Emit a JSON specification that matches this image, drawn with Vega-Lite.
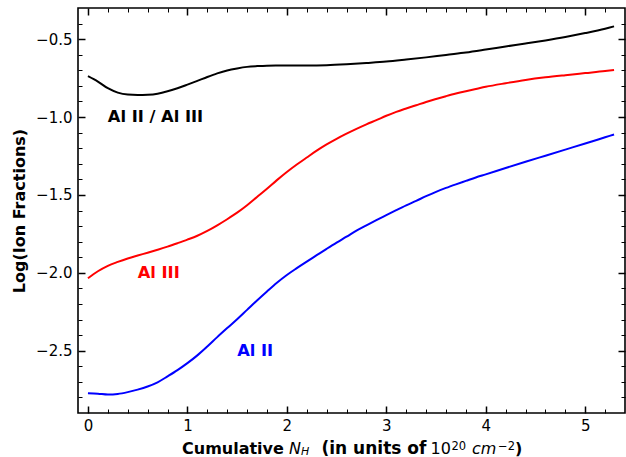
{
  "$schema": "https://vega.github.io/schema/vega-lite/v6.json",
  "width": 547,
  "height": 405,
  "autosize": {"type": "none"},
  "padding": {"left": 78, "top": 8, "right": 1, "bottom": 44},
  "config": {
    "font": "DejaVu Sans",
    "view": {"stroke": "black", "strokeWidth": 1.6},
    "axis": {
      "domain": false,
      "grid": false,
      "labelColor": "black",
      "tickColor": "black",
      "titleColor": "black",
      "labelFont": "DejaVu Sans",
      "titleFont": "DejaVu Sans",
      "labelFlush": false
    }
  },
  "datasets": {
    "ions": [
      {"n": 0, "v": -2.773, "ion": "Al II"},
      {"n": 0.1, "v": -2.776, "ion": "Al II"},
      {"n": 0.2, "v": -2.782, "ion": "Al II"},
      {"n": 0.3, "v": -2.778, "ion": "Al II"},
      {"n": 0.4, "v": -2.766, "ion": "Al II"},
      {"n": 0.5, "v": -2.75, "ion": "Al II"},
      {"n": 0.6, "v": -2.73, "ion": "Al II"},
      {"n": 0.7, "v": -2.703, "ion": "Al II"},
      {"n": 0.8, "v": -2.665, "ion": "Al II"},
      {"n": 0.9, "v": -2.625, "ion": "Al II"},
      {"n": 1.0, "v": -2.58, "ion": "Al II"},
      {"n": 1.1, "v": -2.53, "ion": "Al II"},
      {"n": 1.2, "v": -2.473, "ion": "Al II"},
      {"n": 1.3, "v": -2.413, "ion": "Al II"},
      {"n": 1.4, "v": -2.355, "ion": "Al II"},
      {"n": 1.5, "v": -2.298, "ion": "Al II"},
      {"n": 1.6, "v": -2.238, "ion": "Al II"},
      {"n": 1.7, "v": -2.178, "ion": "Al II"},
      {"n": 1.8, "v": -2.12, "ion": "Al II"},
      {"n": 1.9, "v": -2.064, "ion": "Al II"},
      {"n": 2.0, "v": -2.014, "ion": "Al II"},
      {"n": 2.1, "v": -1.97, "ion": "Al II"},
      {"n": 2.2, "v": -1.928, "ion": "Al II"},
      {"n": 2.3, "v": -1.887, "ion": "Al II"},
      {"n": 2.4, "v": -1.846, "ion": "Al II"},
      {"n": 2.5, "v": -1.806, "ion": "Al II"},
      {"n": 2.6, "v": -1.768, "ion": "Al II"},
      {"n": 2.7, "v": -1.729, "ion": "Al II"},
      {"n": 2.8, "v": -1.695, "ion": "Al II"},
      {"n": 2.9, "v": -1.662, "ion": "Al II"},
      {"n": 3.0, "v": -1.63, "ion": "Al II"},
      {"n": 3.1, "v": -1.598, "ion": "Al II"},
      {"n": 3.2, "v": -1.567, "ion": "Al II"},
      {"n": 3.3, "v": -1.538, "ion": "Al II"},
      {"n": 3.4, "v": -1.508, "ion": "Al II"},
      {"n": 3.5, "v": -1.48, "ion": "Al II"},
      {"n": 3.6, "v": -1.455, "ion": "Al II"},
      {"n": 3.7, "v": -1.432, "ion": "Al II"},
      {"n": 3.8, "v": -1.41, "ion": "Al II"},
      {"n": 3.9, "v": -1.388, "ion": "Al II"},
      {"n": 4.0, "v": -1.368, "ion": "Al II"},
      {"n": 4.2, "v": -1.327, "ion": "Al II"},
      {"n": 4.4, "v": -1.287, "ion": "Al II"},
      {"n": 4.6, "v": -1.248, "ion": "Al II"},
      {"n": 4.8, "v": -1.209, "ion": "Al II"},
      {"n": 5.0, "v": -1.17, "ion": "Al II"},
      {"n": 5.2, "v": -1.13, "ion": "Al II"},
      {"n": 5.29, "v": -1.112, "ion": "Al II"},
      {"n": 0, "v": -2.035, "ion": "Al III"},
      {"n": 0.1, "v": -1.99, "ion": "Al III"},
      {"n": 0.2, "v": -1.955, "ion": "Al III"},
      {"n": 0.3, "v": -1.93, "ion": "Al III"},
      {"n": 0.4, "v": -1.908, "ion": "Al III"},
      {"n": 0.5, "v": -1.889, "ion": "Al III"},
      {"n": 0.6, "v": -1.871, "ion": "Al III"},
      {"n": 0.7, "v": -1.852, "ion": "Al III"},
      {"n": 0.8, "v": -1.832, "ion": "Al III"},
      {"n": 0.9, "v": -1.81, "ion": "Al III"},
      {"n": 1.0, "v": -1.787, "ion": "Al III"},
      {"n": 1.1, "v": -1.762, "ion": "Al III"},
      {"n": 1.2, "v": -1.731, "ion": "Al III"},
      {"n": 1.3, "v": -1.695, "ion": "Al III"},
      {"n": 1.4, "v": -1.656, "ion": "Al III"},
      {"n": 1.5, "v": -1.614, "ion": "Al III"},
      {"n": 1.6, "v": -1.566, "ion": "Al III"},
      {"n": 1.7, "v": -1.513, "ion": "Al III"},
      {"n": 1.8, "v": -1.46, "ion": "Al III"},
      {"n": 1.9, "v": -1.405, "ion": "Al III"},
      {"n": 2.0, "v": -1.353, "ion": "Al III"},
      {"n": 2.1, "v": -1.305, "ion": "Al III"},
      {"n": 2.2, "v": -1.26, "ion": "Al III"},
      {"n": 2.3, "v": -1.216, "ion": "Al III"},
      {"n": 2.4, "v": -1.176, "ion": "Al III"},
      {"n": 2.5, "v": -1.14, "ion": "Al III"},
      {"n": 2.6, "v": -1.107, "ion": "Al III"},
      {"n": 2.7, "v": -1.076, "ion": "Al III"},
      {"n": 2.8, "v": -1.047, "ion": "Al III"},
      {"n": 2.9, "v": -1.02, "ion": "Al III"},
      {"n": 3.0, "v": -0.992, "ion": "Al III"},
      {"n": 3.1, "v": -0.967, "ion": "Al III"},
      {"n": 3.2, "v": -0.945, "ion": "Al III"},
      {"n": 3.3, "v": -0.924, "ion": "Al III"},
      {"n": 3.4, "v": -0.903, "ion": "Al III"},
      {"n": 3.5, "v": -0.884, "ion": "Al III"},
      {"n": 3.6, "v": -0.866, "ion": "Al III"},
      {"n": 3.7, "v": -0.849, "ion": "Al III"},
      {"n": 3.8, "v": -0.834, "ion": "Al III"},
      {"n": 3.9, "v": -0.82, "ion": "Al III"},
      {"n": 4.0, "v": -0.806, "ion": "Al III"},
      {"n": 4.2, "v": -0.783, "ion": "Al III"},
      {"n": 4.4, "v": -0.762, "ion": "Al III"},
      {"n": 4.6, "v": -0.745, "ion": "Al III"},
      {"n": 4.8, "v": -0.731, "ion": "Al III"},
      {"n": 5.0, "v": -0.718, "ion": "Al III"},
      {"n": 5.2, "v": -0.705, "ion": "Al III"},
      {"n": 5.29, "v": -0.698, "ion": "Al III"},
      {"n": 0, "v": -0.737, "ion": "Al II / Al III"},
      {"n": 0.1, "v": -0.772, "ion": "Al II / Al III"},
      {"n": 0.2, "v": -0.815, "ion": "Al II / Al III"},
      {"n": 0.3, "v": -0.843, "ion": "Al II / Al III"},
      {"n": 0.4, "v": -0.856, "ion": "Al II / Al III"},
      {"n": 0.5, "v": -0.859, "ion": "Al II / Al III"},
      {"n": 0.6, "v": -0.857, "ion": "Al II / Al III"},
      {"n": 0.7, "v": -0.85, "ion": "Al II / Al III"},
      {"n": 0.8, "v": -0.835, "ion": "Al II / Al III"},
      {"n": 0.9, "v": -0.815, "ion": "Al II / Al III"},
      {"n": 1.0, "v": -0.792, "ion": "Al II / Al III"},
      {"n": 1.1, "v": -0.768, "ion": "Al II / Al III"},
      {"n": 1.2, "v": -0.743, "ion": "Al II / Al III"},
      {"n": 1.3, "v": -0.72, "ion": "Al II / Al III"},
      {"n": 1.4, "v": -0.701, "ion": "Al II / Al III"},
      {"n": 1.5, "v": -0.688, "ion": "Al II / Al III"},
      {"n": 1.6, "v": -0.678, "ion": "Al II / Al III"},
      {"n": 1.7, "v": -0.673, "ion": "Al II / Al III"},
      {"n": 1.8, "v": -0.67, "ion": "Al II / Al III"},
      {"n": 2.0, "v": -0.669, "ion": "Al II / Al III"},
      {"n": 2.2, "v": -0.669, "ion": "Al II / Al III"},
      {"n": 2.4, "v": -0.667, "ion": "Al II / Al III"},
      {"n": 2.6, "v": -0.661, "ion": "Al II / Al III"},
      {"n": 2.8, "v": -0.653, "ion": "Al II / Al III"},
      {"n": 3.0, "v": -0.644, "ion": "Al II / Al III"},
      {"n": 3.2, "v": -0.631, "ion": "Al II / Al III"},
      {"n": 3.4, "v": -0.617, "ion": "Al II / Al III"},
      {"n": 3.6, "v": -0.601, "ion": "Al II / Al III"},
      {"n": 3.8, "v": -0.586, "ion": "Al II / Al III"},
      {"n": 4.0, "v": -0.567, "ion": "Al II / Al III"},
      {"n": 4.2, "v": -0.547, "ion": "Al II / Al III"},
      {"n": 4.4, "v": -0.528, "ion": "Al II / Al III"},
      {"n": 4.6, "v": -0.508, "ion": "Al II / Al III"},
      {"n": 4.8, "v": -0.486, "ion": "Al II / Al III"},
      {"n": 5.0, "v": -0.461, "ion": "Al II / Al III"},
      {"n": 5.2, "v": -0.433, "ion": "Al II / Al III"},
      {"n": 5.29, "v": -0.418, "ion": "Al II / Al III"}
    ]
  },
  "resolve": {"axis": {"x": "independent", "y": "independent"}},
  "layer": [
    {
      "data": {"name": "ions"},
      "mark": {"type": "line", "strokeWidth": 2, "interpolate": "monotone"},
      "encoding": {
        "x": {"field": "n", "type": "quantitative",
          "scale": {"domain": [-0.1, 5.4], "nice": false, "zero": false},
          "axis": {"orient": "bottom", "values": [0, 1, 2, 3, 4, 5], "format": "d", "ticks": false, "labelPadding": 5, "labelFontSize": 15, "title": null}},
        "y": {"field": "v", "type": "quantitative",
          "scale": {"domain": [-2.9, -0.3], "nice": false, "zero": false},
          "axis": {"orient": "left", "values": [-2.5, -2, -1.5, -1, -0.5], "format": ".1f", "ticks": false, "labelPadding": 6, "labelFontSize": 15,
            "title": "Log(Ion Fractions)", "titleFontSize": 16, "titleFontWeight": "bold", "titlePadding": 8}},
        "color": {"field": "ion", "type": "nominal",
          "scale": {"domain": ["Al II / Al III", "Al III", "Al II"], "range": ["#000000", "#ff0000", "#0000ff"]},
          "legend": null}
      }
    },
    {
      "data": {"name": "ions"},
      "mark": {"type": "point", "opacity": 0},
      "encoding": {
        "x": {"field": "n", "type": "quantitative", "scale": {"domain": [-0.1, 5.4], "nice": false, "zero": false},
          "axis": {"orient": "bottom", "values": [0, 1, 2, 3, 4, 5], "labels": false, "tickSize": -7, "tickWidth": 1.5, "title": null}},
        "y": {"field": "v", "type": "quantitative", "scale": {"domain": [-2.9, -0.3], "nice": false, "zero": false},
          "axis": {"orient": "left", "values": [-2.5, -2, -1.5, -1, -0.5], "labels": false, "tickSize": -7, "tickWidth": 1.5, "title": null}}
      }
    },
    {
      "data": {"name": "ions"},
      "mark": {"type": "point", "opacity": 0},
      "encoding": {
        "x": {"field": "n", "type": "quantitative", "scale": {"domain": [-0.1, 5.4], "nice": false, "zero": false},
          "axis": {"orient": "top", "values": [0, 1, 2, 3, 4, 5], "labels": false, "tickSize": -7, "tickWidth": 1.5, "title": null}},
        "y": {"field": "v", "type": "quantitative", "scale": {"domain": [-2.9, -0.3], "nice": false, "zero": false},
          "axis": {"orient": "right", "values": [-2.5, -2, -1.5, -1, -0.5], "labels": false, "tickSize": -7, "tickWidth": 1.5, "title": null}}
      }
    },
    {
      "data": {"name": "ions"},
      "mark": {"type": "point", "opacity": 0},
      "encoding": {
        "x": {"field": "n", "type": "quantitative", "scale": {"domain": [-0.1, 5.4], "nice": false, "zero": false},
          "axis": {"orient": "bottom", "values": [0.2, 0.4, 0.6, 0.8, 1.2, 1.4, 1.6, 1.8, 2.2, 2.4, 2.6, 2.8, 3.2, 3.4, 3.6, 3.8, 4.2, 4.4, 4.6, 4.8, 5.2], "labels": false, "tickSize": -4, "tickWidth": 1, "title": null}},
        "y": {"field": "v", "type": "quantitative", "scale": {"domain": [-2.9, -0.3], "nice": false, "zero": false},
          "axis": {"orient": "left", "values": [-2.8, -2.7, -2.6, -2.4, -2.3, -2.2, -2.1, -1.9, -1.8, -1.7, -1.6, -1.4, -1.3, -1.2, -1.1, -0.9, -0.8, -0.7, -0.6, -0.4], "labels": false, "tickSize": -4, "tickWidth": 1, "title": null}}
      }
    },
    {
      "data": {"name": "ions"},
      "mark": {"type": "point", "opacity": 0},
      "encoding": {
        "x": {"field": "n", "type": "quantitative", "scale": {"domain": [-0.1, 5.4], "nice": false, "zero": false},
          "axis": {"orient": "top", "values": [0.2, 0.4, 0.6, 0.8, 1.2, 1.4, 1.6, 1.8, 2.2, 2.4, 2.6, 2.8, 3.2, 3.4, 3.6, 3.8, 4.2, 4.4, 4.6, 4.8, 5.2], "labels": false, "tickSize": -4, "tickWidth": 1, "title": null}},
        "y": {"field": "v", "type": "quantitative", "scale": {"domain": [-2.9, -0.3], "nice": false, "zero": false},
          "axis": {"orient": "right", "values": [-2.8, -2.7, -2.6, -2.4, -2.3, -2.2, -2.1, -1.9, -1.8, -1.7, -1.6, -1.4, -1.3, -1.2, -1.1, -0.9, -0.8, -0.7, -0.6, -0.4], "labels": false, "tickSize": -4, "tickWidth": 1, "title": null}}
      }
    },
    {
      "data": {"values": [{}]},
      "mark": {"type": "text", "text": "Al II / Al III", "align": "left", "baseline": "middle", "fontSize": 16.3, "fontWeight": "bold", "color": "#000000"},
      "encoding": {
        "x": {"datum": 0.2, "type": "quantitative", "axis": null},
        "y": {"datum": -1.0, "type": "quantitative", "axis": null}
      }
    },
    {
      "data": {"values": [{}]},
      "mark": {"type": "text", "text": "Al III", "align": "left", "baseline": "middle", "fontSize": 16.3, "fontWeight": "bold", "color": "#ff0000"},
      "encoding": {
        "x": {"datum": 0.5, "type": "quantitative", "axis": null},
        "y": {"datum": -2.0, "type": "quantitative", "axis": null}
      }
    },
    {
      "data": {"values": [{}]},
      "mark": {"type": "text", "text": "Al II", "align": "left", "baseline": "middle", "fontSize": 16.3, "fontWeight": "bold", "color": "#0000ff"},
      "encoding": {
        "x": {"datum": 1.5, "type": "quantitative", "axis": null},
        "y": {"datum": -2.5, "type": "quantitative", "axis": null}
      }
    },
    {
      "data": {"values": [{}]},
      "mark": {"type": "text", "text": "Cumulative", "align": "left", "baseline": "alphabetic", "fontSize": 16, "fontWeight": "bold", "color": "#000000"},
      "encoding": {
        "x": {"datum": 0.9457, "type": "quantitative", "axis": null},
        "y": {"datum": -3.16, "type": "quantitative", "axis": null}
      }
    },
    {
      "data": {"values": [{}]},
      "mark": {"type": "text", "text": "N", "align": "left", "baseline": "alphabetic", "fontSize": 16, "fontStyle": "italic", "color": "#000000"},
      "encoding": {
        "x": {"datum": 2.0216, "type": "quantitative", "axis": null},
        "y": {"datum": -3.16, "type": "quantitative", "axis": null}
      }
    },
    {
      "data": {"values": [{}]},
      "mark": {"type": "text", "text": "H", "align": "left", "baseline": "alphabetic", "fontSize": 11, "fontStyle": "italic", "dy": 1, "color": "#000000"},
      "encoding": {
        "x": {"datum": 2.1423, "type": "quantitative", "axis": null},
        "y": {"datum": -3.16, "type": "quantitative", "axis": null}
      }
    },
    {
      "data": {"values": [{}]},
      "mark": {"type": "text", "text": "(in units of", "align": "left", "baseline": "alphabetic", "fontSize": 17, "fontWeight": "bold", "color": "#000000"},
      "encoding": {
        "x": {"datum": 2.3484, "type": "quantitative", "axis": null},
        "y": {"datum": -3.16, "type": "quantitative", "axis": null}
      }
    },
    {
      "data": {"values": [{}]},
      "mark": {"type": "text", "text": "10", "align": "left", "baseline": "alphabetic", "fontSize": 16, "color": "#000000"},
      "encoding": {
        "x": {"datum": 3.4445, "type": "quantitative", "axis": null},
        "y": {"datum": -3.16, "type": "quantitative", "axis": null}
      }
    },
    {
      "data": {"values": [{}]},
      "mark": {"type": "text", "text": "20", "align": "left", "baseline": "alphabetic", "fontSize": 11.5, "dy": -4, "color": "#000000"},
      "encoding": {
        "x": {"datum": 3.6556, "type": "quantitative", "axis": null},
        "y": {"datum": -3.16, "type": "quantitative", "axis": null}
      }
    },
    {
      "data": {"values": [{}]},
      "mark": {"type": "text", "text": "cm", "align": "left", "baseline": "alphabetic", "fontSize": 16, "fontStyle": "italic", "color": "#000000"},
      "encoding": {
        "x": {"datum": 3.8618, "type": "quantitative", "axis": null},
        "y": {"datum": -3.16, "type": "quantitative", "axis": null}
      }
    },
    {
      "data": {"values": [{}]},
      "mark": {"type": "text", "text": "−2", "align": "left", "baseline": "alphabetic", "fontSize": 11.5, "dy": -4, "color": "#000000"},
      "encoding": {
        "x": {"datum": 4.1232, "type": "quantitative", "axis": null},
        "y": {"datum": -3.16, "type": "quantitative", "axis": null}
      }
    },
    {
      "data": {"values": [{}]},
      "mark": {"type": "text", "text": ")", "align": "left", "baseline": "alphabetic", "fontSize": 16, "fontWeight": "bold", "color": "#000000"},
      "encoding": {
        "x": {"datum": 4.2942, "type": "quantitative", "axis": null},
        "y": {"datum": -3.16, "type": "quantitative", "axis": null}
      }
    }
  ]
}
